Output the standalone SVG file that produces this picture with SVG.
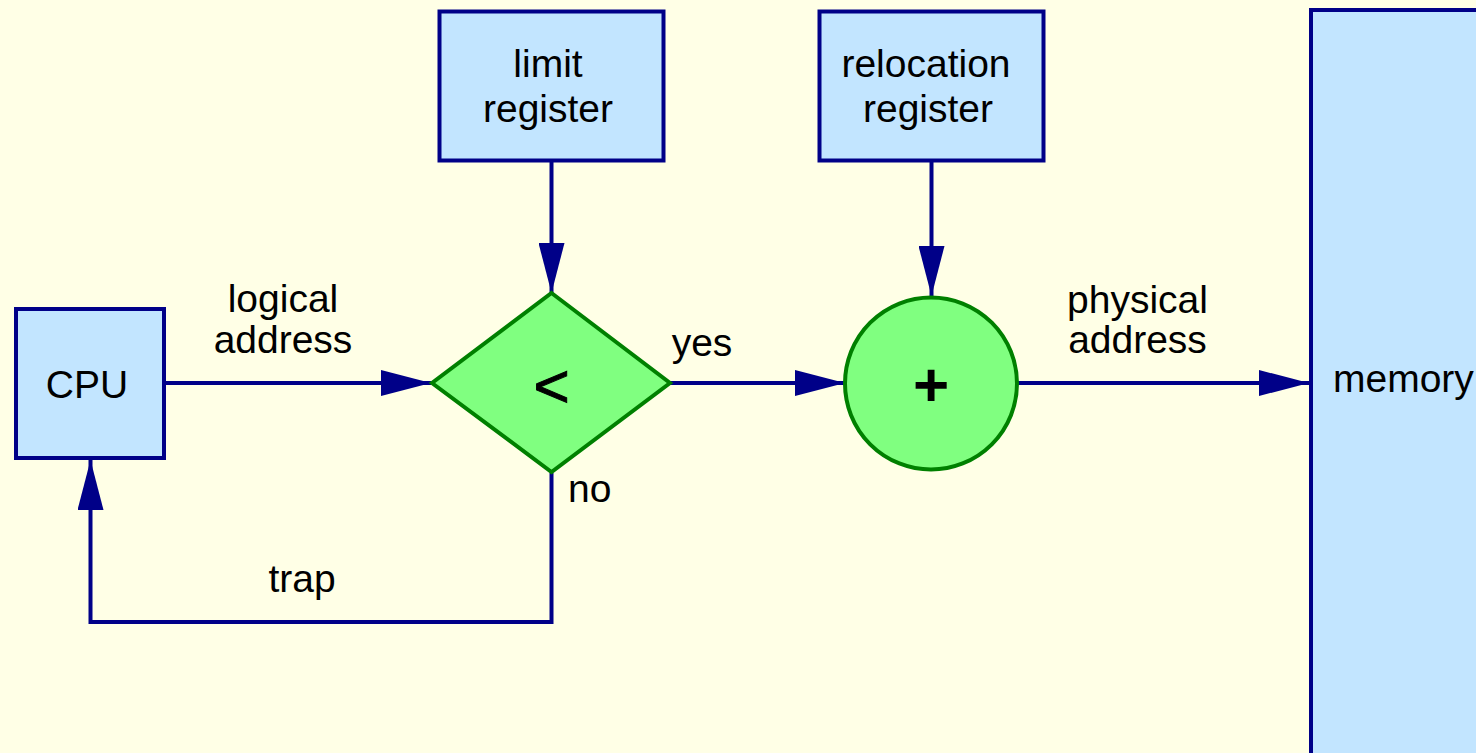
<svg xmlns="http://www.w3.org/2000/svg" width="1476" height="753" viewBox="0 0 1476 753">
<style>
.box{fill:#c2e5ff;stroke:#000088;stroke-width:4}
.dec{fill:#80ff80;stroke:#008000;stroke-width:4}
.edge{fill:none;stroke:#000088;stroke-width:4}
text{font-family:"Liberation Sans",Arial,sans-serif;font-size:39px;fill:#000}
.mid{text-anchor:middle}
.big{font-size:62px;text-anchor:middle}
.bold{font-weight:bold}
</style>
<defs>
<marker id="arr" markerUnits="userSpaceOnUse" markerWidth="50" markerHeight="26" refX="50" refY="13" orient="auto">
<path d="M0,0 L50,13 L0,26 Z" fill="#000088"/>
</marker>
</defs>
<rect width="1476" height="753" fill="#ffffe6"/>
<g id="connectors">
<line class="edge" x1="166" y1="383" x2="431" y2="383" marker-end="url(#arr)"/>
<line class="edge" x1="551.5" y1="162" x2="551.5" y2="293" marker-end="url(#arr)"/>
<line class="edge" x1="931.5" y1="162" x2="931.5" y2="296" marker-end="url(#arr)"/>
<line class="edge" x1="670" y1="383" x2="845" y2="383" marker-end="url(#arr)"/>
<line class="edge" x1="1014" y1="383" x2="1309" y2="383" marker-end="url(#arr)"/>
<polyline class="edge" points="551.5,473 551.5,622 90.5,622 90.5,460" marker-end="url(#arr)"/>
<text class="mid" x="283" y="312">logical</text>
<text class="mid" x="283" y="353">address</text>
<text class="mid" x="702" y="356">yes</text>
<text x="568" y="502">no</text>
<text class="mid" x="302" y="592">trap</text>
<text class="mid" x="1137.5" y="313">physical</text>
<text class="mid" x="1137.5" y="353">address</text>
</g>
<g id="cpu">
<rect class="box" x="16" y="309" width="148" height="149"/>
<text class="mid" x="87" y="398">CPU</text>
</g>
<g id="limit">
<rect class="box" x="439.5" y="11.5" width="224" height="149"/>
<text class="mid" x="548" y="77">limit</text>
<text class="mid" x="548" y="121.5">register</text>
</g>
<g id="relocation">
<rect class="box" x="819.5" y="11.5" width="224" height="149"/>
<text class="mid" x="926" y="77">relocation</text>
<text class="mid" x="928" y="121.5">register</text>
</g>
<g id="compare">
<polygon class="dec" points="551.5,293 670,383 551.5,472 432,383"/>
<text class="big" x="551.5" y="407" stroke="#000" stroke-width="1">&lt;</text>
</g>
<g id="adder">
<circle class="dec" cx="931" cy="383.5" r="86"/>
<text class="big bold" x="931" y="406">+</text>
</g>
<g id="memory">
<rect class="box" x="1311" y="10" width="200" height="800"/>
<text x="1333" y="392">memory</text>
</g>
</svg>
